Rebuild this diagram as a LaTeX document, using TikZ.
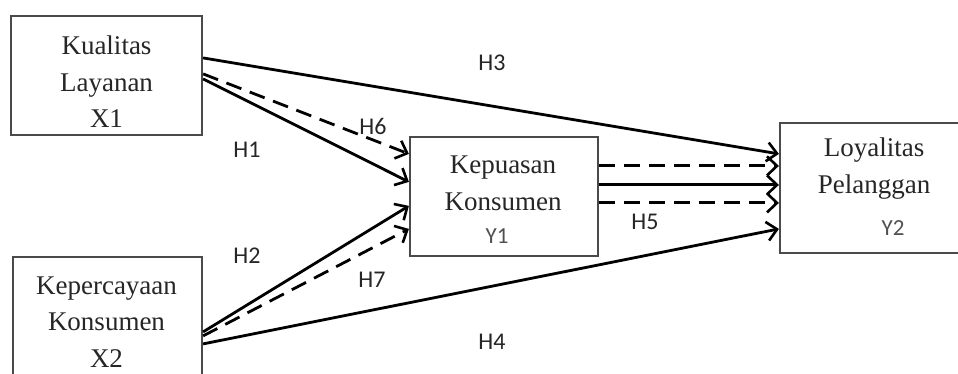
\documentclass[tikz,border=0pt]{standalone}
\usepackage{fontspec}
\setmainfont{Liberation Serif}
\newfontfamily\lblfont{Carlito}
\usetikzlibrary{arrows.meta}
\definecolor{boxgray}{HTML}{4A4A4A}
\definecolor{txtgray}{HTML}{262626}
\definecolor{ygray}{HTML}{505050}
\tikzset{
  box/.style={draw=boxgray, line width=2.2pt, rectangle, inner sep=0pt},
  boxtext/.style={align=center, text=txtgray, font=\fontsize{27}{36.5}\selectfont, inner sep=0pt},
  ytext/.style={text=ygray, font=\lblfont\fontsize{23}{26}\selectfont, inner sep=0pt},
  hlabel/.style={text=txtgray, font=\lblfont\fontsize{24}{28}\selectfont, inner sep=0pt},
  conn/.style={line width=2.8pt, black, -{Straight Barb[length=10pt,width=19pt,line width=2.6pt]}},
  dconn/.style={conn, dash pattern=on 16pt off 9pt},
}
\begin{document}
\begin{tikzpicture}[x=1pt,y=-1pt]
\useasboundingbox (0,0) rectangle (958,374);
\clip (0,0) rectangle (958,374);
\fill[white] (0,0) rectangle (958,374);

% boxes
\node[box, minimum width=191pt, minimum height=119pt] (x1) at (106.5,75.5) {};
\node[box, minimum width=189pt, minimum height=140pt] (x2) at (107.5,327) {};
\node[box, minimum width=188pt, minimum height=119pt] (y1) at (504,196.5) {};
\node[box, minimum width=200pt, minimum height=130pt] (y2) at (880,188) {};

% box texts
\node[boxtext] (x1t) at (106.5,82) {Kualitas\\Layanan\\X1};
\node[boxtext] (x2t) at (106.5,322) {Kepercayaan\\Konsumen\\X2};
\node[boxtext] (y1t) at (503,183.5) {Kepuasan\\Konsumen};
\node[ytext] (y1y) at (497,236) {Y1};
\node[boxtext] (y2t) at (874,168.5) {Loyalitas\\Pelanggan};
\node[ytext] (y2y) at (893,228) {Y2};

% connectors
\draw[conn] ([yshift=-43pt]x1.north east) -- ([yshift=-32pt]y2.north west);
\draw[dconn] ([yshift=-59pt]x1.north east) -- ([yshift=-18pt]y1.north west);
\draw[conn] ([yshift=-64pt]x1.north east) -- ([yshift=-46pt]y1.north west);
\draw[conn] ([yshift=-76pt]x2.north east) -- ([yshift=-70pt]y1.north west);
\draw[dconn] ([yshift=-80pt]x2.north east) -- ([yshift=-93pt]y1.north west);
\draw[conn] ([yshift=-88pt]x2.north east) -- ([yshift=-107pt]y2.north west);
\draw[dconn] ([yshift=-30pt]y1.north east) -- ([yshift=-44pt]y2.north west);
\draw[conn] ([yshift=-49pt]y1.north east) -- ([yshift=-63pt]y2.north west);
\draw[dconn] ([yshift=-67pt]y1.north east) -- ([yshift=-81pt]y2.north west);

% labels
\node[hlabel] (h3) at (492,63) {H3};
\node[hlabel] (h6) at (373,126) {H6};
\node[hlabel] (h1) at (247,150) {H1};
\node[hlabel] (h2) at (247,256) {H2};
\node[hlabel] (h7) at (372,280) {H7};
\node[hlabel] (h5) at (645,222) {H5};
\node[hlabel] (h4) at (492,342) {H4};
\end{tikzpicture}
\end{document}
